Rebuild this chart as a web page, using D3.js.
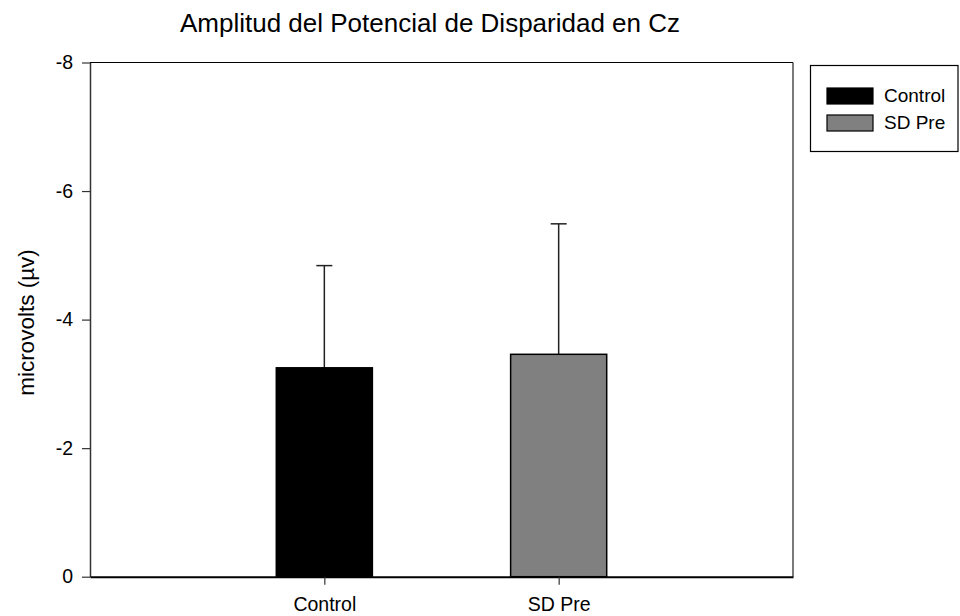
<!DOCTYPE html>
<html><head><meta charset="utf-8">
<script src="https://cdn.jsdelivr.net/npm/d3@7"></script>
<style>body{margin:0;background:#fff}svg{display:block;font-family:"Liberation Sans",Arial,sans-serif}</style>
</head><body>
<svg id="c" width="960" height="616"></svg>
<script>
const categories = ["Control", "SD Pre"];
const values = [-3.25, -3.46];
const errors = [1.59, 2.03];
const colors = ["#000000", "#808080"];
const yTicks = [-8, -6, -4, -2, 0];
const title = "Amplitud del Potencial de Disparidad en Cz";
const yLabel = "microvolts (\u00b5v)";

const FONT = "Liberation Sans, Arial, sans-serif";
const svg = d3.select("#c");
const m = {l: 90, r: 167, t: 62.5, b: 39.3};
const W = 960 - m.l - m.r, H = 616 - m.t - m.b;
const g = svg.append("g").attr("transform", `translate(${m.l},${m.t})`);

const x = d3.scalePoint().domain(categories).range([0, W]).padding(1);
const y = d3.scaleLinear().domain([0, -8]).range([H, 0]);
const bw = x.step() * 0.41;

// frame top/right
g.append("line").attr("x1", 0).attr("x2", W).attr("y1", 0).attr("y2", 0).attr("stroke", "#000").attr("stroke-width", 1.2);
g.append("line").attr("x1", W).attr("x2", W).attr("y1", 0).attr("y2", H).attr("stroke", "#222").attr("stroke-width", 1.2);

// error bars
categories.forEach((c, i) => {
  const cx = x(c);
  const yTop = y(values[i] - errors[i]);
  g.append("line").attr("x1", cx).attr("x2", cx).attr("y1", y(values[i])).attr("y2", yTop).attr("stroke", "#222").attr("stroke-width", 1.5);
  g.append("line").attr("x1", cx - 8).attr("x2", cx + 8).attr("y1", yTop).attr("y2", yTop).attr("stroke", "#222").attr("stroke-width", 1.5);
});

// bars
g.selectAll("rect.bar").data(categories).join("rect")
  .attr("x", d => x(d) - bw / 2).attr("width", bw)
  .attr("y", (d, i) => y(values[i])).attr("height", (d, i) => y(0) - y(values[i]))
  .attr("fill", (d, i) => colors[i]).attr("stroke", "#000").attr("stroke-width", 1.5);

// y axis
const ya = g.append("g").call(d3.axisLeft(y).tickValues(yTicks).tickSize(8).tickSizeOuter(0).tickPadding(9).tickFormat(d => String(d)));
ya.select(".domain").attr("stroke", "#333").attr("stroke-width", 1.5);
ya.selectAll(".tick line").attr("stroke", "#333").attr("stroke-width", 1.2);
ya.selectAll("text").attr("font-size", 19.5).attr("fill", "#000").attr("font-family", FONT);

// x axis
const xa = g.append("g").attr("transform", `translate(0,${H})`).call(d3.axisBottom(x).tickSize(8).tickSizeOuter(0).tickPadding(0));
xa.select(".domain").attr("stroke", "#000").attr("stroke-width", 2);
xa.selectAll(".tick line").attr("stroke", "#333").attr("stroke-width", 1.2);
xa.selectAll("text").attr("font-size", 19.5).attr("fill", "#000").attr("font-family", FONT)
  .attr("dy", null).attr("y", 34);

// title
svg.append("text").attr("x", 430).attr("y", 32).attr("text-anchor", "middle").attr("font-size", 26).attr("font-family", FONT).text(title);
// y label
svg.append("text").attr("transform", `translate(34,322.5) rotate(-90)`).attr("text-anchor", "middle").attr("font-size", 22.5).attr("font-family", FONT).text(yLabel);

// legend
const lg = svg.append("g");
lg.append("rect").attr("x", 810.5).attr("y", 65.5).attr("width", 147.5).attr("height", 86).attr("fill", "#fff").attr("stroke", "#000").attr("stroke-width", 1.2);
categories.forEach((c, i) => {
  lg.append("rect").attr("x", 827).attr("y", 88 + i * 27).attr("width", 46).attr("height", 16)
    .attr("fill", colors[i]).attr("stroke", "#000").attr("stroke-width", 1.2);
  lg.append("text").attr("x", 884).attr("y", 102 + i * 27).attr("font-size", 19).attr("font-family", FONT).text(c);
});
</script>
</body></html>
